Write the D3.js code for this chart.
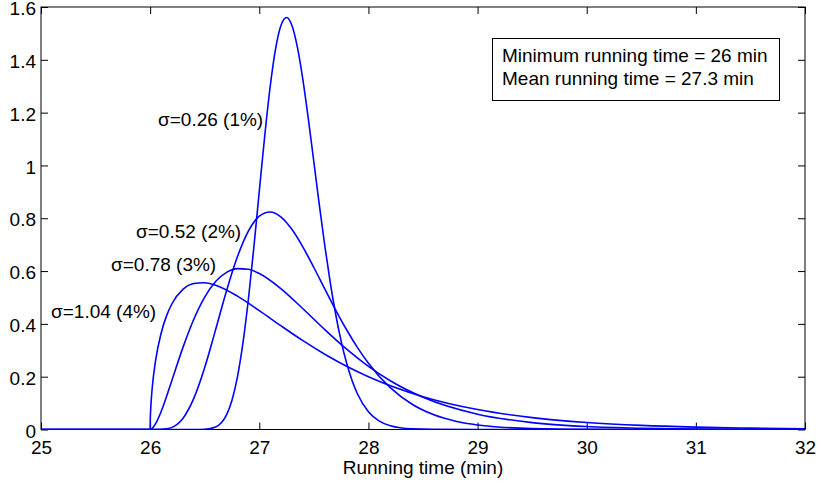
<!DOCTYPE html>
<html>
<head>
<meta charset="utf-8">
<script src="https://cdn.jsdelivr.net/npm/d3@7"></script>
<style>
  body { margin: 0; background: #fff; }
  text { font-family: "Liberation Sans", Arial, sans-serif; fill: #000; }
</style>
</head>
<body>
<svg id="chart" width="821" height="487"></svg>
<script>
// running time distributions
const labels = ["σ=0.26 (1%)", "σ=0.52 (2%)", "σ=0.78 (3%)", "σ=1.04 (4%)"];

const time1 = [25, 26, 26.4, 26.5, 26.6, 26.65, 26.7, 26.75, 26.8, 26.85, 26.9, 26.95, 27.0, 27.05, 27.1, 27.15, 27.2, 27.25, 27.3, 27.35, 27.4, 27.45, 27.5, 27.55, 27.6, 27.65, 27.7, 27.75, 27.8, 27.85, 27.9, 28.0, 28.1, 28.2, 28.4, 28.6, 29, 32];
const dens1 = [0, 0, 0, 0.0008, 0.0094, 0.0245, 0.0554, 0.1109, 0.1995, 0.3267, 0.4924, 0.6892, 0.9023, 1.1126, 1.2989, 1.4433, 1.5322, 1.5605, 1.5291, 1.4461, 1.3234, 1.1745, 1.0131, 0.8508, 0.6968, 0.5576, 0.4364, 0.3345, 0.2515, 0.1855, 0.1345, 0.0673, 0.0317, 0.0142, 0.0024, 0.0004, 0, 0];

const time2 = [25, 26, 26.1, 26.15, 26.2, 26.25, 26.3, 26.4, 26.5, 26.6, 26.7, 26.8, 26.9, 27.0, 27.1, 27.2, 27.3, 27.4, 27.5, 27.6, 27.7, 27.8, 27.9, 28.0, 28.2, 28.4, 28.6, 28.8, 29.0, 29.5, 30.0, 31.0, 32];
const dens2 = [0, 0, 0.0003, 0.0023, 0.0081, 0.0205, 0.0420, 0.1177, 0.2349, 0.3783, 0.5254, 0.6548, 0.7515, 0.8078, 0.8238, 0.8044, 0.7571, 0.6907, 0.6135, 0.5323, 0.4525, 0.3777, 0.3102, 0.2511, 0.1583, 0.0956, 0.0556, 0.0314, 0.0172, 0.0035, 0.0006, 0, 0];

const time3 = [25, 26, 26.02, 26.05, 26.1, 26.15, 26.2, 26.3, 26.4, 26.5, 26.6, 26.7, 26.8, 26.9, 27.0, 27.2, 27.4, 27.6, 27.8, 28.0, 28.2, 28.5, 29.0, 29.5, 30.0, 30.5, 31.0, 32.0];
const dens3 = [0, 0, 0.0046, 0.0219, 0.0674, 0.1246, 0.1868, 0.3101, 0.4177, 0.5016, 0.5602, 0.5950, 0.6093, 0.6067, 0.5909, 0.5330, 0.4573, 0.3782, 0.3041, 0.2392, 0.1848, 0.1222, 0.0580, 0.0262, 0.0114, 0.0048, 0.0020, 0.0003];

const time4 = [25, 26, 26.001, 26.005, 26.01, 26.02, 26.05, 26.1, 26.15, 26.2, 26.3, 26.4, 26.5, 26.6, 26.8, 27.0, 27.2, 27.4, 27.6, 27.8, 28.0, 28.5, 29.0, 29.5, 30.0, 30.5, 31.0, 31.5, 32.0];
const dens4 = [0, 0, 0.0307, 0.0756, 0.1110, 0.1619, 0.2615, 0.3636, 0.4302, 0.4762, 0.5305, 0.5531, 0.5560, 0.5463, 0.5050, 0.4502, 0.3923, 0.3364, 0.2851, 0.2396, 0.1999, 0.1243, 0.0755, 0.0451, 0.0267, 0.0156, 0.0091, 0.0053, 0.0030];

const xTicks = [25, 26, 27, 28, 29, 30, 31, 32];
const yTicks = [0, 0.2, 0.4, 0.6, 0.8, 1, 1.2, 1.4, 1.6];
const infoLines = ["Minimum running time = 26 min", "Mean running time = 27.3 min"];

// label anchor: [start x, baseline y] in pixels
const labelPos = [[158, 126], [136, 238], [111, 271], [51, 318]];

const mLeft = 41, mRight = 805, mTop = 7, mBottom = 429.5;

const svg = d3.select("#chart");
const x = d3.scaleLinear().domain([25, 32]).range([mLeft, mRight]);
const y = d3.scaleLinear().domain([0, 1.6]).range([mBottom, mTop]);

svg.append("defs").append("clipPath").attr("id", "plot")
  .append("rect").attr("x", mLeft).attr("y", mTop - 2)
  .attr("width", mRight - mLeft).attr("height", mBottom - mTop + 2);

const series = [
  {t: time1, d: dens1},
  {t: time2, d: dens2},
  {t: time3, d: dens3},
  {t: time4, d: dens4}
];

const line = d3.line()
  .x(p => x(p[0]))
  .y(p => y(p[1]))
  .curve(d3.curveMonotoneX);

// axes, matlab style box with inward ticks
const fs = "19px";
svg.append("g").attr("transform", `translate(0,${mBottom})`)
  .call(d3.axisBottom(x).tickValues(xTicks).tickFormat(d3.format("d")).tickSize(-7).tickPadding(11));
svg.append("g").attr("class", "yax").attr("transform", `translate(${mLeft},0)`)
  .call(d3.axisLeft(y).tickValues(yTicks).tickFormat(d => String(d)).tickSize(-7).tickPadding(5));
svg.append("g").attr("transform", `translate(0,${mTop})`)
  .call(d3.axisTop(x).tickValues(xTicks).tickFormat("").tickSize(-7));
svg.append("g").attr("transform", `translate(${mRight},0)`)
  .call(d3.axisRight(y).tickValues(yTicks).tickFormat("").tickSize(-7));

svg.selectAll(".domain").remove();
svg.selectAll(".tick line").attr("stroke", "#000");
svg.selectAll(".tick text").style("font-size", fs).style("font-family", "Liberation Sans, Arial, sans-serif");
svg.selectAll(".yax .tick text").attr("dy", "0.4em");

svg.append("rect")
  .attr("x", mLeft).attr("y", mTop)
  .attr("width", mRight - mLeft).attr("height", mBottom - mTop)
  .attr("fill", "none").attr("stroke", "#000").attr("stroke-width", 1);

svg.append("g").attr("clip-path", "url(#plot)")
  .selectAll("path")
  .data(series)
  .join("path")
  .attr("d", s => line(s.t.map((t, i) => [t, s.d[i]])))
  .attr("fill", "none")
  .attr("stroke", "#0000ff")
  .attr("stroke-width", 1.6);

svg.append("text")
  .attr("x", (mLeft + mRight) / 2).attr("y", 474)
  .attr("text-anchor", "middle")
  .style("font-size", fs)
  .text("Running time (min)");

svg.selectAll("text.lbl")
  .data(labels)
  .join("text")
  .attr("class", "lbl")
  .attr("x", (d, i) => labelPos[i][0])
  .attr("y", (d, i) => labelPos[i][1])
  .style("font-size", fs)
  .text(d => d);

// info box
svg.append("rect")
  .attr("x", 492.5).attr("y", 38.5).attr("width", 287).attr("height", 62)
  .attr("fill", "#fff").attr("stroke", "#000").attr("stroke-width", 1);
svg.selectAll("text.info")
  .data(infoLines)
  .join("text")
  .attr("class", "info")
  .attr("x", 502)
  .attr("y", (d, i) => 62 + i * 23)
  .style("font-size", fs)
  .text(d => d);
</script>
</body>
</html>
